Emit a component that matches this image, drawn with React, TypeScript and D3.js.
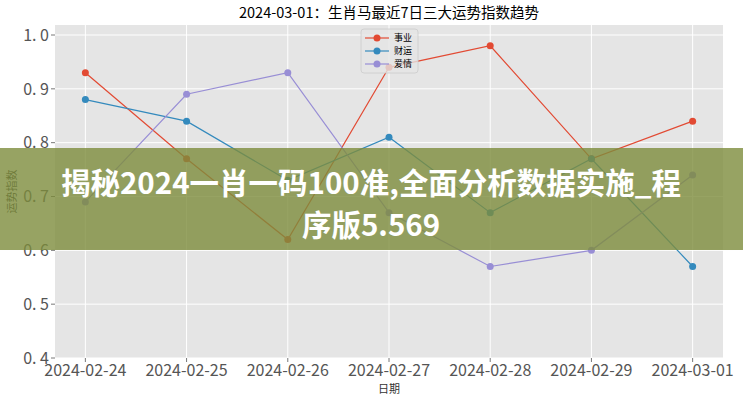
import React from "react";
import * as d3 from "d3";

const dates = ["2024-02-24", "2024-02-25", "2024-02-26", "2024-02-27", "2024-02-28", "2024-02-29", "2024-03-01"];
const career = [0.93, 0.77, 0.62, 0.94, 0.98, 0.77, 0.84];
const wealth = [0.88, 0.84, 0.73, 0.81, 0.67, 0.77, 0.57];
const love = [0.69, 0.89, 0.93, 0.67, 0.57, 0.6, 0.74];
const seriesNames = ["事业", "财运", "爱情"];
const seriesColors = ["#E24A33", "#348ABD", "#988ED5"];
const yTicks = [0.4, 0.5, 0.6, 0.7, 0.8, 0.9, 1.0];
const title = "2024-03-01：生肖马最近7日三大运势指数趋势";
const bannerLine1 = "揭秘2024一肖一码100准,全面分析数据实施_程";
const bannerLine2 = "序版5.569";

const W = 743, H = 400;
const L = 55, R = 723, T = 25, B = 358;

export default function App() {
  const x = d3.scalePoint<string>().domain(dates).range([L, R]).padding(0.3);
  const y = d3.scaleLinear().domain([0.4, 1.0]).range([358, 35]);
  const series = [career, wealth, love];
  const line = d3.line<number>().x((_, i) => x(dates[i]) as number).y((d) => y(d));
  const font = "'Noto Sans CJK SC', 'DejaVu Sans', sans-serif";

  return (
    <svg width={W} height={H} style={{ position: "absolute", left: 0, top: 0, background: "#fff" }} fontFamily={font}>
      <rect x={L} y={T} width={R - L} height={B - T} fill="#E5E5E5" />
      {yTicks.map((t) => (
        <g key={t}>
          <line x1={L} x2={R} y1={y(t)} y2={y(t)} stroke="#fff" strokeWidth={1} />
          <line x1={L - 4} x2={L} y1={y(t)} y2={y(t)} stroke="#555" strokeWidth={0.8} />
          <text x={L - 6} y={y(t)} dy="0.36em" textAnchor="end" fontSize={16} fill="#555">
            {d3.format(".1f")(t).replace(".", ". ")}
          </text>
        </g>
      ))}
      {dates.map((d) => (
        <g key={d}>
          <line x1={x(d)} x2={x(d)} y1={T} y2={B} stroke="#fff" strokeWidth={1} />
          <line x1={x(d)} x2={x(d)} y1={B} y2={B + 4} stroke="#555" strokeWidth={0.8} />
          <text x={x(d)} y={B + 18} textAnchor="middle" fontSize={16} fill="#555">{d}</text>
        </g>
      ))}
      <text x={(L + R) / 2} y={393} textAnchor="middle" fontSize={11} fill="#333">日期</text>
      <text transform={`translate(16,${(T + B) / 2}) rotate(-90)`} textAnchor="middle" fontSize={11} fill="#333">运势指数</text>
      <text x={(L + R) / 2} y={18} textAnchor="middle" fontSize={14.5} fill="#000">{title}</text>
      {series.map((s, si) => (
        <g key={si}>
          <path d={line(s) || ""} fill="none" stroke={seriesColors[si]} strokeWidth={1.2} />
          {s.map((v, i) => (
            <circle key={i} cx={x(dates[i])} cy={y(v)} r={3.5} fill={seriesColors[si]} />
          ))}
        </g>
      ))}
      <g>
        <rect x={361} y={29} width={57} height={44} rx={3} fill="#E5E5E5" fillOpacity={0.8} stroke="#ccc" strokeWidth={0.8} />
        {seriesNames.map((n, i) => (
          <g key={n}>
            <line x1={365} x2={389} y1={38 + i * 13} y2={38 + i * 13} stroke={seriesColors[i]} strokeWidth={1.2} />
            <circle cx={377} cy={38 + i * 13} r={3.5} fill={seriesColors[i]} />
            <text x={394} y={38 + i * 13} dy="0.35em" fontSize={9} fill="#000">{n}</text>
          </g>
        ))}
      </g>
      <rect x={0} y={148} width={W} height={102} fill="#7d8c3c" fillOpacity={0.8} />
      <text x={371} y={194} textAnchor="middle" fontSize={29.5} fontWeight="bold" fill="#fff">{bannerLine1}</text>
      <text x={371} y={236} textAnchor="middle" fontSize={29.5} fontWeight="bold" fill="#fff">{bannerLine2}</text>
    </svg>
  );
}
